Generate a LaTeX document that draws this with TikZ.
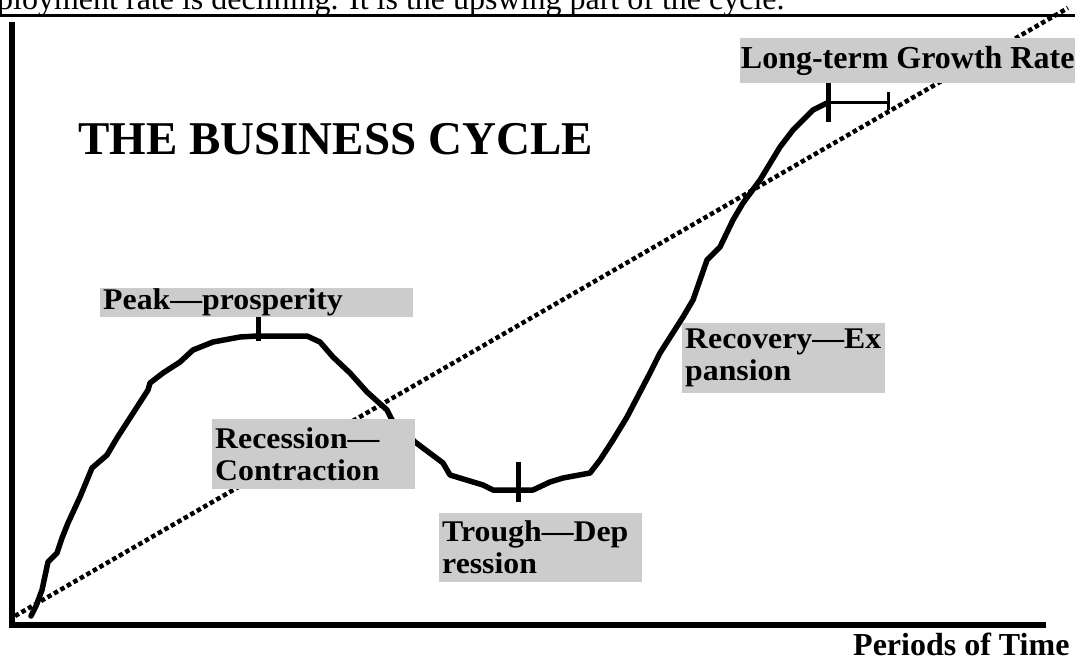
\documentclass[tikz,border=0pt]{standalone}
\usepackage{fontspec}
\setmainfont{Liberation Serif}
\newfontfamily\labf{Liberation Serif}[FakeStretch=1.06]
\definecolor{boxgray}{HTML}{CCCCCC}
\begin{document}
\begin{tikzpicture}[x=1pt,y=-1pt,
  axis/.style={line width=6pt},
  rule/.style={line width=3pt},
  trend/.style={line width=4.5pt, dash pattern=on 4.5pt off 3pt},
  curve/.style={line width=5.5pt, line join=round, line cap=round},
  tick/.style={line width=5pt},
  thin tick/.style={line width=3pt},
  lab/.style={fill=boxgray, anchor=north west, inner xsep=3pt, inner ysep=0pt, align=left,
    font=\labf\bfseries\fontsize{30}{32}\selectfont},
]
\useasboundingbox (0,0) rectangle (1075,660);

% top text and rule
\node[anchor=base west, inner sep=0pt, font=\fontsize{32}{36}\selectfont] (toptext) at (-3,10)
  {ployment rate is declining. It is the upswing part of the cycle.};
\coordinate (ruleL) at (0,16);
\coordinate (ruleR) at (1075,16);
\draw[rule] (ruleL) -- (ruleR);

% axes
\coordinate (ytop) at (12,22);
\coordinate (ybot) at (12,628);
\coordinate (xl) at (15,625);
\coordinate (xr) at (1046,625);
\draw[axis] (ytop) -- (ybot);
\draw[axis] (xl) -- (xr);

% trend line
\coordinate (t0) at (15,616);
\coordinate (t1) at (1068,8);
\draw[trend] (t0) -- (t1);

% business cycle curve
\draw[curve] plot coordinates {
 (31,616) (36,606) (42,590) (48,562) (57,553) (62,538) (68,523) (80,497)
 (92,468) (107,455) (117,438) (148,390) (150,383) (163,373) (180,362)
 (193,350) (213,342) (240,337) (257,336) (307,336) (320,342) (333,357)
 (350,373) (367,392) (387,410) (392,420) (415,442) (443,463) (450,475)
 (483,485) (493,490) (533,490) (550,482) (563,478) (590,473) (600,460)
 (613,440) (627,417) (650,373) (660,353) (683,317) (693,300) (707,260)
 (720,247) (733,220) (743,203) (760,180) (780,147) (793,130) (813,110)
 (827,103)};

% ticks
\coordinate (pk1) at (258,313); \coordinate (pk2) at (258,341);
\draw[tick] (pk1) -- (pk2);
\coordinate (tr1) at (518,462); \coordinate (tr2) at (518,502);
\draw[tick] (tr1) -- (tr2);
\coordinate (lt1) at (828,82); \coordinate (lt2) at (828,122);
\draw[tick] (lt1) -- (lt2);
\coordinate (ltA) at (828,103); \coordinate (ltB) at (888,103);
\draw[thin tick] (ltA) -- (ltB);
\coordinate (le1) at (888,92); \coordinate (le2) at (888,110);
\draw[thin tick] (le1) -- (le2);

% title
\node[anchor=base west, inner sep=0pt, font=\bfseries\fontsize{47}{52}\selectfont] (title) at (78,155)
  {THE BUSINESS CYCLE};

% labels
\node[lab, minimum width=313pt, minimum height=29pt, text width=307pt] (peak) at (100,288)
  {Peak—prosperity};
\node[lab, minimum width=203pt, minimum height=70pt, text width=197pt] (recession) at (212,419)
  {Recession—\\Contraction};
\node[lab, minimum width=203pt, minimum height=69pt, text width=197pt] (trough) at (439,513)
  {Trough—Dep\\ression};
\node[lab, minimum width=203pt, minimum height=70pt, text width=197pt] (recovery) at (682,323)
  {Recovery—Ex\\pansion};
\node[lab, inner xsep=0pt, minimum width=335pt, minimum height=45pt,
  font=\bfseries\fontsize{32}{36}\selectfont] (longterm) at (740,38)
  {Long-term Growth Rate};

% axis label
\node[anchor=base west, inner sep=0pt, font=\bfseries\fontsize{32}{36}\selectfont] (periods) at (853,655)
  {Periods of Time};
\end{tikzpicture}
\end{document}
